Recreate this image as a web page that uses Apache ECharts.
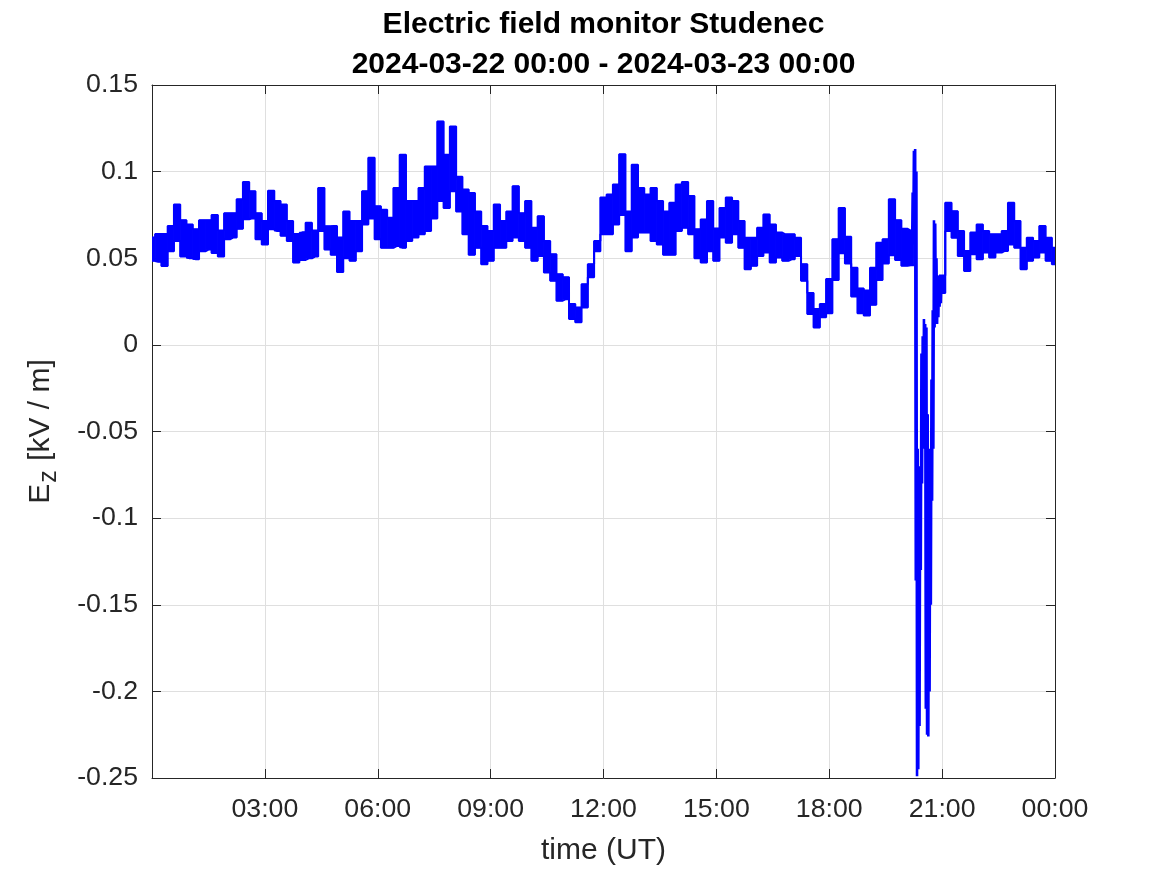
<!DOCTYPE html>
<html>
<head>
<meta charset="utf-8">
<script src="https://cdn.jsdelivr.net/npm/echarts@6/dist/echarts.min.js"></script>
<style>
html,body{margin:0;padding:0;background:#fff;}
#chart{width:1167px;height:875px;}
</style>
</head>
<body>
<div id="chart"></div>
<script>
// ---- data (kV/m) ----
const titleLines = ['Electric field monitor Studenec', '2024-03-22 00:00 - 2024-03-23 00:00'];
const xTickHours = [0, 3, 6, 9, 12, 15, 18, 21, 24];
const stepMinutes = 10; // envelope bin length
// upper envelope per 10-min bin (k = 0..144)
const hi = [
  .062,.064,.064,.0686,.081,.072,.0695,.0667,.072,.072,
  .075,.066,.076,.076,.084,.094,.0887,.076,.0715,.089,
  .083,.081,.0715,.064,.065,.0705,.066,.0906,.0685,.0686,
  .062,.077,.0715,.0715,.0887,.108,.08,.078,.0734,.0906,
  .1098,.083,.083,.0906,.103,.103,.129,.1098,.126,.097,
  .0897,.0877,.077,.0686,.0657,.081,.0715,.077,.0916,.076,
  .083,.0676,.0743,.060,.0523,.0408,.039,.0236,.0216,.035,
  .0466,.060,.085,.0868,.0925,.110,.077,.104,.0906,.0868,
  .0906,.083,.077,.082,.0925,.094,.086,.0667,.0724,.083,
  .0672,.079,.085,.083,.0715,.0619,.0619,.0676,.0753,.0695,
  .0648,.0638,.0638,.0619,.0466,.030,.0207,.0236,.038,.061,
  .079,.0624,.0445,.0326,.0314,.0445,.059,.061,.084,.072,
  .067,.066,-.06,.015,-.06,.05,.04,.082,.0772,.0657,
  .0542,.0648,.0695,.0657,.0638,.0638,.0657,.082,.0715,.0561,
  .0619,.060,.0686,.0619,.0561
];
// lower envelope per 10-min bin (k = 0..144)
const lo = [
  .0485,.048,.0455,.054,.060,.051,.050,.0494,.054,.055,
  .053,.051,.061,.062,.067,.0725,.073,.061,.058,.0667,
  .0657,.063,.060,.0475,.049,.050,.051,.0657,.055,.052,
  .042,.050,.0485,.054,.0695,.073,.061,.056,.056,.057,
  .056,.060,.062,.0638,.0657,.073,.083,.079,.0887,.077,
  .0638,.052,.056,.0465,.0485,.056,.056,.060,.062,.060,
  .056,.0485,.0513,.0418,.037,.0255,.0264,.015,.013,.0216,
  .039,.054,.0638,.0638,.0695,.075,.054,.062,.0648,.0648,
  .060,.058,.052,.052,.0657,.0676,.0638,.050,.0475,.054,
  .0485,.062,.059,.0638,.056,.0437,.0456,.0513,.0533,.0475,
  .0504,.0485,.0494,.0513,.037,.0178,.010,.016,.0183,.0374,
  .0529,.047,.0279,.0183,.017,.0231,.0374,.047,.0517,.049,
  .0457,.046,-.249,-.06,-.2,.012,.03,.0657,.0619,.0513,
  .0427,.0523,.0494,.0533,.0504,.0533,.0542,.058,.0561,.0437,
  .0485,.0504,.0533,.0485,.0466
];
// finer detail of the 20:10 - 21:00 disturbance (minutes after 00:00, 2-min bins)
const eventMinutes = [1210,1212,1214,1216,1218,1220,1222,1224,1226,1228,1230,1232,1234,1236,1238,1240,1242,1244,1246,1248,1250,1252,1254,1256,1258,1260];
const eventHi = [.066,.088,.112,.113,.100,-.060,-.110,-.070,-.005,.005,.015,.012,.010,-.040,-.070,-.060,-.020,.020,.072,.070,.050,.040,.040,.040,.038,.040];
const eventLo = [.046,.050,.058,.085,-.136,-.249,-.245,-.220,-.130,-.080,-.060,-.040,-.210,-.225,-.226,-.200,-.150,-.090,-.060,.010,.012,.012,.016,.022,.024,.030];

// ---- build series data ----
const evStart = eventMinutes[0], evEnd = eventMinutes[eventMinutes.length - 1];
const band = [], hiLine = [], loLine = [];
for (let k = 0; k < hi.length; k++) {
  const t = k * stepMinutes;
  const x = t / 60;
  if (t > evStart && t < evEnd) {
    hiLine.push([x, null]);
    loLine.push([x, null]);
  } else {
    band.push([x, lo[k], hi[k]]);
    hiLine.push([x, hi[k]]);
    loLine.push([x, lo[k]]);
  }
}
const eventLine = [];
for (let j = 0; j < eventMinutes.length; j++) {
  eventLine.push([eventMinutes[j] / 60, eventLo[j]]);
  eventLine.push([(eventMinutes[j] + 1) / 60, eventHi[j]]);
}
const halfBinH = stepMinutes / 2 / 60;

const pad = n => (n < 10 ? '0' : '') + n;
const FONT = '"Liberation Sans", Arial, Helvetica, sans-serif';
const axisCol = '#262626';
const gridCol = '#dfdfdf';
const BLUE = '#0000ff';

const edgeLine = (name, data) => ({
  name, type: 'line', data, step: 'middle', showSymbol: false, symbol: 'none', z: 2,
  connectNulls: false, clip: true, lineStyle: {color: BLUE, width: 2}
});

const chart = echarts.init(document.getElementById('chart'), null, {renderer: 'canvas'});
chart.setOption({
  animation: false,
  backgroundColor: '#ffffff',
  title: {
    text: titleLines.join('\n'),
    left: 603.5,
    top: 5,
    padding: 0,
    textAlign: 'center',
    textStyle: {fontFamily: FONT, fontWeight: 'bold', fontSize: 30, lineHeight: 40, color: '#000'}
  },
  grid: {left: 152, right: 112, top: 85, bottom: 97, containLabel: false},
  xAxis: [{
    type: 'value', min: xTickHours[0], max: xTickHours[xTickHours.length - 1], interval: 3,
    name: 'time (UT)', nameLocation: 'middle', nameGap: 58,
    nameTextStyle: {fontFamily: FONT, fontSize: 30, color: axisCol},
    axisLine: {show: true, onZero: false, lineStyle: {color: axisCol, width: 1}},
    axisTick: {show: true, inside: true, length: 9, lineStyle: {color: axisCol}},
    axisLabel: {
      fontFamily: FONT, fontSize: 26.7, color: axisCol, margin: 18,
      formatter: v => (v === xTickHours[0] ? '' : pad(v % 24) + ':00')
    },
    splitLine: {show: true, lineStyle: {color: gridCol, width: 1}}
  }, {
    type: 'value', position: 'top', min: 0, max: 24, interval: 3,
    axisLine: {show: true, onZero: false, lineStyle: {color: axisCol, width: 1}},
    axisTick: {show: true, inside: true, length: 9, lineStyle: {color: axisCol}},
    axisLabel: {show: false}, splitLine: {show: false}
  }],
  yAxis: [{
    type: 'value', min: -0.25, max: 0.15, interval: 0.05,
    name: 'E{sub|z} [kV / m]', nameLocation: 'middle', nameRotate: 90, nameGap: 90,
    nameTextStyle: {
      fontFamily: FONT, fontSize: 30, color: axisCol,
      rich: {sub: {fontFamily: FONT, fontSize: 25, color: axisCol, padding: [18, 1, 0, 1]}}
    },
    axisLine: {show: true, onZero: false, lineStyle: {color: axisCol, width: 1}},
    axisTick: {show: true, inside: true, length: 9, lineStyle: {color: axisCol}},
    axisLabel: {fontFamily: FONT, fontSize: 26.7, color: axisCol, margin: 14},
    splitLine: {show: true, lineStyle: {color: gridCol, width: 1}}
  }, {
    type: 'value', position: 'right', min: -0.25, max: 0.15, interval: 0.05,
    axisLine: {show: true, onZero: false, lineStyle: {color: axisCol, width: 1}},
    axisTick: {show: true, inside: true, length: 9, lineStyle: {color: axisCol}},
    axisLabel: {show: false}, splitLine: {show: false}
  }],
  series: [
  edgeLine('Ez max', hiLine),
  edgeLine('Ez min', loLine),
  {
    name: 'Ez range', type: 'custom', clip: true, data: band, z: 3,
    encode: {x: 0, y: [1, 2]},
    renderItem: function (params, api) {
      const p0 = api.coord([api.value(0) - halfBinH, api.value(2)]);
      const p1 = api.coord([api.value(0) + halfBinH, api.value(1)]);
      return {
        type: 'rect',
        shape: {x: p0[0], y: p0[1], width: p1[0] - p0[0], height: p1[1] - p0[1]},
        style: {fill: BLUE, stroke: BLUE, lineWidth: 1}
      };
    }
  },
  {
    name: 'Ez event', type: 'line', data: eventLine, showSymbol: false, symbol: 'none',
    lineStyle: {color: BLUE, width: 2.6}, clip: true
  }]
});
</script>
</body>
</html>
